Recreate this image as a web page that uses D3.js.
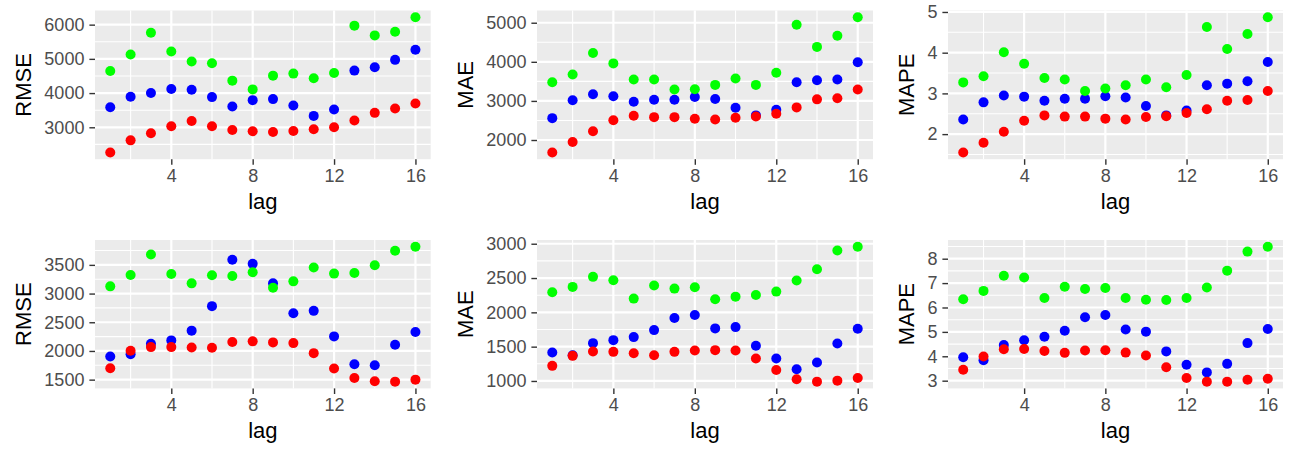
<!DOCTYPE html>
<html>
<head>
  <meta charset="utf-8">
  <title>Error by lag</title>
  <script src="https://d3js.org/d3.v7.min.js"></script>
  <style>
    body { margin: 0; background: white; }
    text { font-family: "Liberation Sans", Arial, sans-serif; }
  </style>
</head>
<body>
<div id="chart"></div>
<script>
// lags on the x axis
var lags = [1, 2, 3, 4, 5, 6, 7, 8, 9, 10, 11, 12, 13, 14, 15, 16];
var xTicks = [4, 8, 12, 16];

// top row
var rmseTopRed   = [2265, 2618, 2824, 3029, 3186, 3029, 2922, 2882, 2863, 2892, 2941, 3000, 3196, 3422, 3549, 3696];
var rmseTopBlue  = [3588, 3892, 4000, 4118, 4098, 3882, 3608, 3794, 3824, 3637, 3333, 3520, 4657, 4755, 4971, 5265];
var rmseTopGreen = [4647, 5127, 5765, 5216, 4922, 4873, 4363, 4108, 4510, 4569, 4431, 4588, 5971, 5686, 5794, 6216];
var rmseTopTicks = [3000, 4000, 5000, 6000];

var maeTopRed   = [1682, 1948, 2224, 2507, 2619, 2585, 2585, 2542, 2525, 2568, 2602, 2671, 2834, 3040, 3066, 3291];
var maeTopBlue  = [2559, 3015, 3169, 3118, 2980, 3032, 3032, 3101, 3049, 2825, 2630, 2774, 3479, 3530, 3548, 3987];
var maeTopGreen = [3479, 3677, 4227, 3960, 3548, 3548, 3290, 3298, 3410, 3573, 3410, 3720, 4949, 4382, 4666, 5140];
var maeTopTicks = [2000, 3000, 4000, 5000];

var mapeTopRed   = [1.55, 1.79, 2.06, 2.33, 2.46, 2.43, 2.43, 2.38, 2.36, 2.42, 2.44, 2.52, 2.61, 2.82, 2.84, 3.06];
var mapeTopBlue  = [2.36, 2.78, 2.95, 2.92, 2.82, 2.87, 2.87, 2.93, 2.90, 2.69, 2.46, 2.58, 3.20, 3.24, 3.30, 3.77];
var mapeTopGreen = [3.27, 3.42, 4.01, 3.73, 3.38, 3.34, 3.06, 3.12, 3.20, 3.34, 3.15, 3.45, 4.63, 4.09, 4.46, 4.87];
var mapeTopTicks = [2, 3, 4, 5];

// bottom row
var rmseBotRed   = [1699, 2003, 2067, 2067, 2061, 2056, 2155, 2167, 2149, 2137, 1962, 1693, 1529, 1471, 1465, 1500];
var rmseBotBlue  = [1904, 1944, 2126, 2184, 2354, 2781, 3588, 3518, 3178, 2658, 2699, 2254, 1769, 1751, 2108, 2330];
var rmseBotGreen = [3126, 3325, 3681, 3342, 3178, 3319, 3307, 3371, 3102, 3213, 3453, 3348, 3360, 3494, 3746, 3816];
var rmseBotTicks = [1500, 2000, 2500, 3000, 3500];

var maeBotRed   = [1220, 1366, 1429, 1424, 1405, 1376, 1424, 1444, 1449, 1444, 1327, 1161, 1024, 990, 1005, 1044];
var maeBotBlue  = [1415, 1376, 1551, 1595, 1639, 1741, 1917, 1961, 1766, 1785, 1512, 1327, 1171, 1268, 1546, 1761];
var maeBotGreen = [2293, 2371, 2517, 2468, 2200, 2390, 2346, 2366, 2190, 2229, 2254, 2302, 2463, 2629, 2902, 2956];
var maeBotTicks = [1000, 1500, 2000, 2500, 3000];

var mapeBotRed   = [3.45, 3.99, 4.29, 4.30, 4.22, 4.14, 4.24, 4.25, 4.15, 4.03, 3.55, 3.11, 2.96, 2.96, 3.04, 3.08];
var mapeBotBlue  = [3.96, 3.84, 4.46, 4.66, 4.80, 5.05, 5.60, 5.69, 5.10, 5.01, 4.20, 3.65, 3.34, 3.69, 4.54, 5.12];
var mapeBotGreen = [6.34, 6.68, 7.30, 7.23, 6.39, 6.85, 6.76, 6.80, 6.39, 6.32, 6.31, 6.39, 6.82, 7.51, 8.29, 8.49];
var mapeBotTicks = [3, 4, 5, 6, 7, 8];

// colors, ggplot grey theme
var panelBg = "#ebebeb";
var tickTextColor = "#4d4d4d";
var tickColor = "#333333";
var colRed = "#ff0000", colBlue = "#0000ff", colGreen = "#00ff00";

var W = 1290, H = 449;
var svg = d3.select("#chart").append("svg")
  .attr("width", W)
  .attr("height", H);

// panel boxes (left, right, top, bottom)
var cols = [[95, 430.7], [537, 873], [948, 1283]];
var rows = [[10.5, 159.2], [240, 388.4]];

var panels = [
  {title: "RMSE", red: rmseTopRed, blue: rmseTopBlue, green: rmseTopGreen, ticks: rmseTopTicks, c: 0, r: 0},
  {title: "MAE",  red: maeTopRed,  blue: maeTopBlue,  green: maeTopGreen,  ticks: maeTopTicks,  c: 1, r: 0},
  {title: "MAPE", red: mapeTopRed, blue: mapeTopBlue, green: mapeTopGreen, ticks: mapeTopTicks, c: 2, r: 0},
  {title: "RMSE", red: rmseBotRed, blue: rmseBotBlue, green: rmseBotGreen, ticks: rmseBotTicks, c: 0, r: 1},
  {title: "MAE",  red: maeBotRed,  blue: maeBotBlue,  green: maeBotGreen,  ticks: maeBotTicks,  c: 1, r: 1},
  {title: "MAPE", red: mapeBotRed, blue: mapeBotBlue, green: mapeBotGreen, ticks: mapeBotTicks, c: 2, r: 1}
];

// ggplot style 5% padding
function padded(ext) {
  var d = (ext[1] - ext[0]) * 0.05;
  return [ext[0] - d, ext[1] + d];
}

// minor breaks halfway between majors, one step past each end
function minorBreaks(major, dom) {
  var step = major[1] - major[0];
  var out = [];
  for (var v = major[0] - step / 2; v <= major[major.length - 1] + step; v += step) {
    if (v >= dom[0] && v <= dom[1]) out.push(v);
  }
  return out;
}

panels.forEach(function(p) {
  var x0 = cols[p.c][0], x1 = cols[p.c][1];
  var y0 = rows[p.r][0], y1 = rows[p.r][1];

  var xDom = padded(d3.extent(lags));
  var yDom = padded(d3.extent(p.red.concat(p.blue, p.green)));

  var x = d3.scaleLinear().domain(xDom).range([x0, x1]);
  var y = d3.scaleLinear().domain(yDom).range([y1, y0]);

  var g = svg.append("g");

  g.append("rect")
    .attr("x", x0).attr("y", y0)
    .attr("width", x1 - x0).attr("height", y1 - y0)
    .style("fill", panelBg);

  // minor grid
  g.selectAll(".vmin").data(minorBreaks(xTicks, xDom)).enter().append("line")
    .attr("x1", d => x(d)).attr("x2", d => x(d))
    .attr("y1", y0).attr("y2", y1)
    .style("stroke", "white").style("stroke-width", 1.1);
  g.selectAll(".hmin").data(minorBreaks(p.ticks, yDom)).enter().append("line")
    .attr("y1", d => y(d)).attr("y2", d => y(d))
    .attr("x1", x0).attr("x2", x1)
    .style("stroke", "white").style("stroke-width", 1.1);

  // major grid
  g.selectAll(".vmaj").data(xTicks).enter().append("line")
    .attr("x1", d => x(d)).attr("x2", d => x(d))
    .attr("y1", y0).attr("y2", y1)
    .style("stroke", "white").style("stroke-width", 2.2);
  g.selectAll(".hmaj").data(p.ticks).enter().append("line")
    .attr("y1", d => y(d)).attr("y2", d => y(d))
    .attr("x1", x0).attr("x2", x1)
    .style("stroke", "white").style("stroke-width", 2.2);

  // axes
  var xAxis = d3.axisBottom(x).tickValues(xTicks).tickSize(5.6).tickPadding(4);
  var yAxis = d3.axisLeft(y).tickValues(p.ticks).tickSize(5.6).tickPadding(5).tickFormat(d3.format("d"));

  var gx = g.append("g").attr("transform", "translate(0," + y1 + ")").call(xAxis);
  var gy = g.append("g").attr("transform", "translate(" + x0 + ",0)").call(yAxis);
  [gx, gy].forEach(function(a) {
    a.select(".domain").remove();
    a.selectAll(".tick line").style("stroke", tickColor).style("stroke-width", 1.4);
    a.selectAll(".tick text")
      .style("fill", tickTextColor)
      .style("font-size", "18px")
      .style("font-family", "'Liberation Sans', Arial, sans-serif");
  });

  // widest y tick label decides where the title goes
  var labelW = 0;
  gy.selectAll(".tick text").each(function() {
    labelW = Math.max(labelW, this.getComputedTextLength());
  });
  var titleX = x0 - 5.6 - 5 - labelW - 13;

  g.append("text")
    .attr("x", (x0 + x1) / 2)
    .attr("y", y1 + 50)
    .attr("text-anchor", "middle")
    .style("font-size", "22px")
    .style("fill", "black")
    .text("lag");

  g.append("text")
    .attr("transform", "translate(" + titleX + "," + ((y0 + y1) / 2) + ") rotate(-90)")
    .attr("text-anchor", "middle")
    .style("font-size", "22px")
    .style("fill", "black")
    .text(p.title);

  // points
  [[p.blue, colBlue], [p.red, colRed], [p.green, colGreen]].forEach(function(s) {
    g.selectAll(null).data(s[0]).enter().append("circle")
      .attr("cx", (d, i) => x(lags[i]))
      .attr("cy", d => y(d))
      .attr("r", 5)
      .style("fill", s[1]);
  });
});
</script>
</body>
</html>
